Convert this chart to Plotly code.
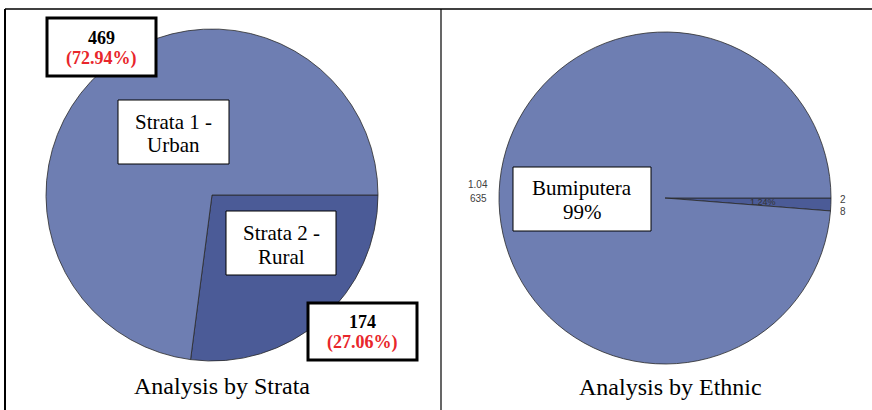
import plotly.graph_objects as go

# ---- data ----
strata_labels = ["Strata 2 - Rural", "Strata 1 - Urban"]
strata_values = [174, 469]
ethnic_labels = ["Others", "Bumiputera"]
ethnic_values = [8, 635]
ethnic_side_labels = [["2", "8"], ["1.04", "635"]]   # stray outside labels as printed
strata_colors = ["#4B5B97", "#6E7EB2"]
ethnic_colors = ["#4B5B97", "#6E7EB2"]

W, H = 872, 410


def px(x):
    return x / W


def py(y):
    return 1 - y / H


s_total = sum(strata_values)
e_total = sum(ethnic_values)
s_pct = [v / s_total * 100 for v in strata_values]
e_pct = [v / e_total * 100 for v in ethnic_values]

fig = go.Figure()

fig.add_trace(go.Pie(
    labels=strata_labels, values=strata_values, sort=False,
    direction="clockwise", rotation=90,
    marker=dict(colors=strata_colors, line=dict(color="#2a2a2a", width=0.8)),
    textinfo="none", hoverinfo="label+value+percent", showlegend=False,
    domain=dict(x=[px(46), px(378)], y=[py(361), py(29)]),
))
fig.add_trace(go.Pie(
    labels=ethnic_labels, values=ethnic_values, sort=False,
    direction="clockwise", rotation=90,
    marker=dict(colors=ethnic_colors, line=dict(color="#2a2a2a", width=0.8)),
    textinfo="none", hoverinfo="label+value+percent", showlegend=False,
    domain=dict(x=[px(499), px(831)], y=[py(364), py(32)]),
))

shapes = []
annotations = []


def line(x0, y0, x1, y1, w):
    shapes.append(dict(type="line", xref="paper", yref="paper",
                       x0=px(x0), y0=py(y0), x1=px(x1), y1=py(y1),
                       line=dict(color="black", width=w)))


def box(x0, y0, x1, y1, w):
    shapes.append(dict(type="rect", xref="paper", yref="paper", layer="above",
                       x0=px(x0), y0=py(y0), x1=px(x1), y1=py(y1),
                       fillcolor="white", line=dict(color="black", width=w)))


def text(x, y, t, size, color="black", family="Liberation Serif", bold=False):
    if bold:
        t = "<b>" + t + "</b>"
    annotations.append(dict(x=px(x), y=py(y), xref="paper", yref="paper",
                            text=t, showarrow=False, xanchor="center", yanchor="middle",
                            font=dict(size=size, color=color, family=family)))


# table borders
line(5, 9, 872, 9, 1.5)
line(5, 9, 5, 410, 2)
line(441, 9, 441, 410, 1.2)

serif = "Liberation Serif, serif"

# Strata boxes
box(47, 18, 156, 76, 3)
text(101.5, 38, f"{strata_values[1]}", 18, bold=True)
text(101.5, 58, f"({s_pct[1]:.2f}%)", 18, color="#E8262B", bold=True)

box(118, 100, 229, 164, 1)
parts = strata_labels[1].split(" - ")
text(173.5, 122, parts[0] + " -", 21, family=serif)
text(173.5, 145, parts[1], 21, family=serif)

box(226, 211, 336, 275, 1)
parts = strata_labels[0].split(" - ")
text(281, 233, parts[0] + " -", 21, family=serif)
text(281, 257, parts[1], 21, family=serif)

box(308, 303, 417, 360, 3)
text(362.5, 322, f"{strata_values[0]}", 18, bold=True)
text(362.5, 342, f"({s_pct[0]:.2f}%)", 18, color="#E8262B", bold=True)

text(222, 386, "Analysis by Strata", 24, family=serif)

# Ethnic
box(513, 167, 651, 231, 1)
text(582, 188, ethnic_labels[1], 21, family=serif)
text(582, 212, f"{e_pct[1]:.0f}%", 21, family=serif)

text(763, 202, f"{e_pct[0]:.2f}%", 9, color="#333333", family="Liberation Sans")
text(843, 199, ethnic_side_labels[0][0], 10, color="#404040", family="Liberation Sans")
text(843, 211, ethnic_side_labels[0][1], 10, color="#404040", family="Liberation Sans")
text(478, 185, ethnic_side_labels[1][0], 10, color="#404040", family="Liberation Sans")
text(478, 198, ethnic_side_labels[1][1], 10, color="#404040", family="Liberation Sans")

text(670, 387, "Analysis by Ethnic", 24, family=serif)

fig.update_layout(
    width=W, height=H, margin=dict(l=0, r=0, t=0, b=0),
    paper_bgcolor="white", plot_bgcolor="white",
    shapes=shapes, annotations=annotations,
)

fig.write_html("out.html", config={"displayModeBar": False},
               post_script="document.body.style.margin='0';document.body.style.overflow='hidden';")
